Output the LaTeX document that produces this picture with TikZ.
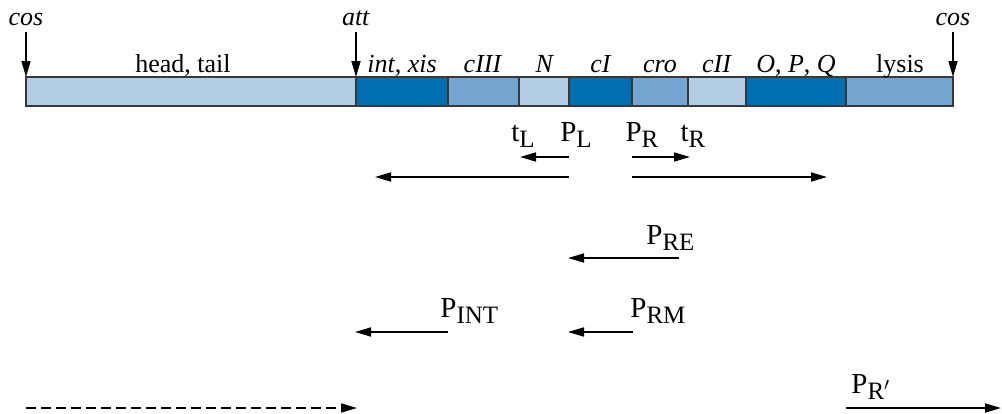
\documentclass[tikz,border=0pt]{standalone}
\usepackage{fontspec}
\setmainfont{Liberation Serif}
\usetikzlibrary{arrows.meta}
\definecolor{lightbar}{RGB}{179,205,229}
\definecolor{midbar}{RGB}{115,165,208}
\definecolor{darkbar}{RGB}{0,110,175}
\definecolor{barline}{RGB}{55,55,60}
\newcommand{\psub}[2]{#1\raisebox{-3pt}{\fontsize{12.5}{14}\selectfont #2}}

\begin{document}
\begin{tikzpicture}[x=0.5pt,y=-0.5pt,font=\fontsize{13}{15}\selectfont,
  seg/.style={draw=barline,line width=0.8pt},
  lab/.style={inner sep=0pt,anchor=base},
  prom/.style={lab,font=\fontsize{14.5}{16}\selectfont},
  tr/.style={-{Triangle[length=8pt,width=4.5pt]},line width=0.8pt}]
\useasboundingbox (0,0) rectangle (1002,413);

% the genome bar
\foreach \a/\b/\c in {26/356/lightbar,356/448/darkbar,448/519/midbar,
  519/569/lightbar,569/632/darkbar,632/688/midbar,688/746/lightbar,
  746/846/darkbar,846/953/midbar}
  \draw[seg,fill=\c] (\a,77) rectangle (\b,106);

\node[lab] (ht) at (183,72) {head, tail};
\node[lab] (ix) at (402,72) {\textit{int}, \textit{xis}};
\node[lab] (c3) at (483,72) {\textit{cIII}};
\node[lab] (n) at (545,72) {\textit{N}};
\node[lab] (c1) at (601,72) {\textit{cI}};
\node[lab] (cr) at (660,72) {\textit{cro}};
\node[lab] (c2) at (717,72) {\textit{cII}};
\node[lab] (opq) at (796,72) {\textit{O}, \textit{P}, \textit{Q}};
\node[lab] (ly) at (900,72) {lysis};

% sites
\node[lab] (cosl) at (26,25) {\textit{cos}};
\node[lab] (att) at (356,25) {\textit{att}};
\node[lab] (cosr) at (953,25) {\textit{cos}};
\coordinate (cosl1) at (26,32); \coordinate (cosl2) at (26,77);
\coordinate (att1) at (356,32); \coordinate (att2) at (356,77);
\coordinate (cosr1) at (953,32); \coordinate (cosr2) at (953,77);
\draw[tr] (cosl1) -- (cosl2);
\draw[tr] (att1) -- (att2);
\draw[tr] (cosr1) -- (cosr2);

% promoters and terminators
\node[prom] (tl) at (523,141) {\psub{t}{L}};
\node[prom] (pl) at (576,141) {\psub{P}{L}};
\node[prom] (pr) at (642,141) {\psub{P}{R}};
\node[prom] (tr) at (693,141) {\psub{t}{R}};
\node[prom,anchor=base west] (pre) at (646,244) {\psub{P}{RE}};
\node[prom,anchor=base west] (pint) at (440,317) {\psub{P}{INT}};
\node[prom,anchor=base west] (prm) at (630,317) {\psub{P}{RM}};
\node[prom,anchor=base west] (prp) at (851,393) {\psub{P}{R$'$}};

\coordinate (l1) at (569,157); \coordinate (l2) at (520,157);
\coordinate (r1) at (632,157); \coordinate (r2) at (690,157);
\coordinate (ll1) at (569,177); \coordinate (ll2) at (375,177);
\coordinate (rr1) at (632,177); \coordinate (rr2) at (827,177);
\coordinate (e1) at (679,258); \coordinate (e2) at (568,258);
\coordinate (i1) at (448,332); \coordinate (i2) at (355,332);
\coordinate (m1) at (633,332); \coordinate (m2) at (568,332);
\coordinate (d1) at (26,408); \coordinate (d2) at (357,408);
\coordinate (p1) at (846,408); \coordinate (p2) at (1001,408);

\draw[tr] (l1) -- (l2);
\draw[tr] (r1) -- (r2);
\draw[tr] (ll1) -- (ll2);
\draw[tr] (rr1) -- (rr2);
\draw[tr] (e1) -- (e2);
\draw[tr] (i1) -- (i2);
\draw[tr] (m1) -- (m2);
\draw[tr,dash pattern=on 5pt off 2.5pt] (d1) -- (d2);
\draw[tr] (p1) -- (p2);
\end{tikzpicture}
\end{document}
